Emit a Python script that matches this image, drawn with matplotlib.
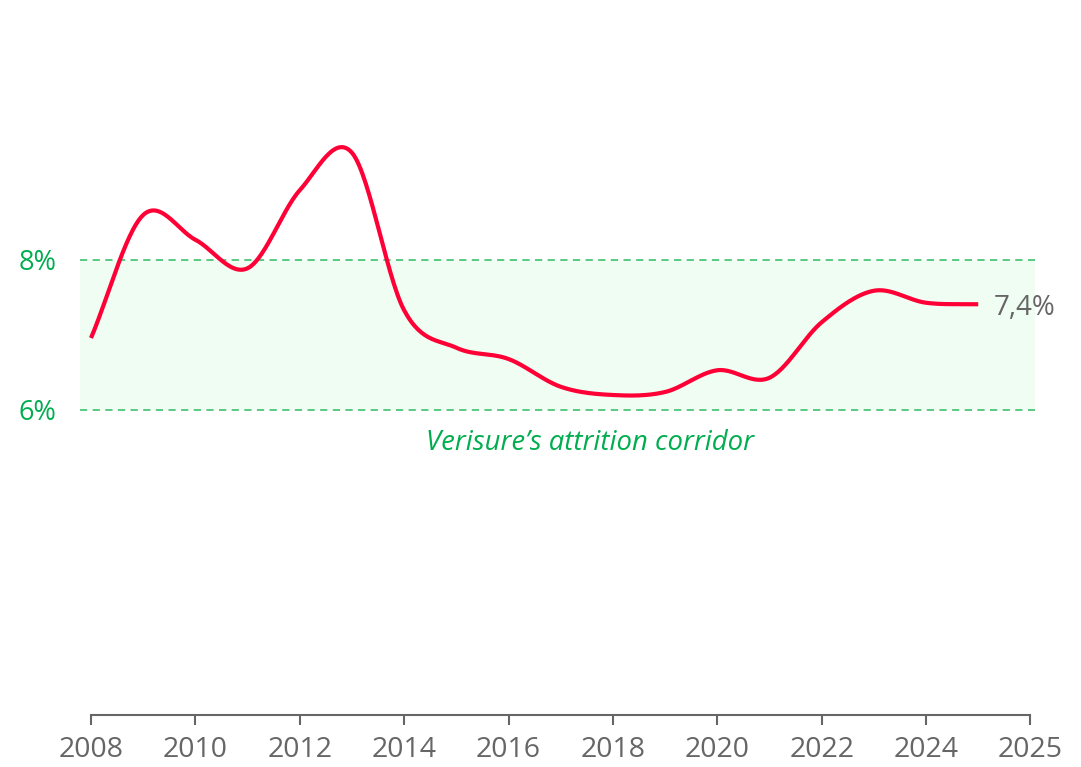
import numpy as np
import matplotlib
matplotlib.use("Agg")
import matplotlib.pyplot as plt

plt.rcParams['font.family'] = ['Open Sans', 'DejaVu Sans']

# data
years = [2008, 2009, 2010, 2011, 2012, 2013, 2014, 2015, 2016,
         2017, 2018, 2019, 2020, 2021, 2022, 2023, 2024, 2025]
attrition = [6.96, 8.60, 8.27, 7.89, 8.93, 9.43, 7.33, 6.83, 6.68,
             6.31, 6.20, 6.24, 6.53, 6.43, 7.17, 7.59, 7.43, 7.41]
corridor = (6.0, 8.0)
tick_pos = [2008, 2010, 2012, 2014, 2016, 2018, 2020, 2022, 2024, 2026]
tick_lab = ['2008', '2010', '2012', '2014', '2016', '2018', '2020', '2022', '2024', '2025']
last_label = '7,4%'

RED = '#ff0036'
GREEN = '#00ad4f'
DASH = '#4cc57a'
FILL = '#effdf3'
GREY = '#666666'


def catmull(x, y, n=30):
    # smooth curve drawn through the points (cardinal spline, tension 0)
    x = np.asarray(x, float)
    y = np.asarray(y, float)
    m = np.zeros_like(y)
    m[1:-1] = (y[2:] - y[:-2]) / 2
    m[0] = y[1] - y[0]
    m[-1] = y[-1] - y[-2]
    xs, ys = [], []
    for i in range(len(x) - 1):
        t = np.linspace(0, 1, n, endpoint=False)
        h00 = 2*t**3 - 3*t**2 + 1
        h10 = t**3 - 2*t**2 + t
        h01 = -2*t**3 + 3*t**2
        h11 = t**3 - t**2
        xs.append(x[i] + t*(x[i+1] - x[i]))
        ys.append(h00*y[i] + h10*m[i] + h01*y[i+1] + h11*m[i+1])
    xs.append([x[-1]])
    ys.append([y[-1]])
    return np.concatenate(xs), np.concatenate(ys)


fig = plt.figure(figsize=(10.81, 7.67), dpi=100)
ax = fig.add_axes([0, 0, 1, 1])

pxx = 52.19  # pixels per year
pxy = 75.0   # pixels per percent
ax.set_xlim(2008 - 91/pxx, 2008 + (1081 - 91)/pxx)
ax.set_ylim(8 - (767 - 260)/pxy, 8 + 260/pxy)

# corridor band
x0, x1 = 2008 - 11/pxx, 2008 + (1035 - 91)/pxx
ax.fill_between([x0, x1], corridor[0], corridor[1], color=FILL, lw=0, zorder=1)
for v in corridor:
    ax.plot([x0, x1], [v, v], color=DASH, lw=1.3, ls=(0, (4, 3)), zorder=2)

sx, sy = catmull(years, attrition)
ax.plot(sx, sy, color=RED, lw=3, solid_capstyle='butt', zorder=3)

ax.text(years[-1] + 0.3, attrition[-1], last_label, color=GREY, fontsize=20,
        va='center_baseline', ha='left')

ax.text(0.017, corridor[1], '8%', transform=ax.get_yaxis_transform(),
        color=GREEN, fontsize=19.5, va='center_baseline', ha='left')
ax.text(0.017, corridor[0], '6%', transform=ax.get_yaxis_transform(),
        color=GREEN, fontsize=19.5, va='center_baseline', ha='left')
ax.text(2008 + (590 - 91)/pxx, corridor[0] - 29/pxy, 'Verisure\u2019s attrition corridor',
        color=GREEN, fontsize=19.8, style='italic', va='center_baseline', ha='center')

# x axis
for s in ['top', 'right', 'left']:
    ax.spines[s].set_visible(False)
ax.spines['bottom'].set_position(('data', 8 - (715 - 260)/pxy))
ax.spines['bottom'].set_bounds(tick_pos[0], tick_pos[-1])
ax.spines['bottom'].set_color(GREY)
ax.spines['bottom'].set_linewidth(1.5)
ax.set_xticks(tick_pos)
ax.set_xticklabels(tick_lab)
ax.tick_params(axis='x', direction='out', length=7, width=1.5, color=GREY,
               labelcolor=GREY, labelsize=20.5, pad=8)
ax.set_yticks([])
ax.patch.set_alpha(0)

fig.savefig('out.png', dpi=100)
